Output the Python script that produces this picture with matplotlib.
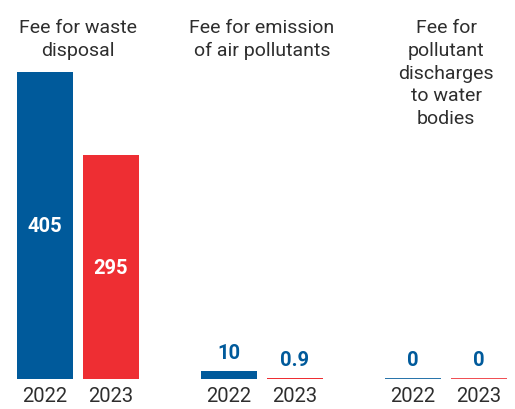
import matplotlib.pyplot as plt

titles = ["Fee for waste\ndisposal", "Fee for emission\nof air pollutants",
          "Fee for\npollutant\ndischarges\nto water\nbodies"]
years = ["2022", "2023"]
values_2022 = [405, 10, 0]
values_2023 = [295, 0.9, 0]
labels_2022 = ["405", "10", "0"]
labels_2023 = ["295", "0.9", "0"]

blue = "#005a9b"
red = "#ee2e33"
dark = "#2e2e2e"

plt.rcParams["font.family"] = ["Roboto", "DejaVu Sans"]

fig = plt.figure(figsize=(5.15, 4.10), dpi=100)
ax = fig.add_axes([0, 30 / 410, 1, 380 / 410])
ax.set_xlim(-78 / 184, 437 / 184)
ax.set_ylim(0, 405 * 380 / 307)
ax.axis("off")

off = 0.179
w = 0.304
trans = ax.get_xaxis_transform()
for i in range(len(titles)):
    for x, v, lab, c, yr in [(i - off, values_2022[i], labels_2022[i], blue, years[0]),
                             (i + off, values_2023[i], labels_2023[i], red, years[1])]:
        ax.bar(x, v, width=w, color=c, linewidth=0)
        ax.plot([x - w / 2, x + w / 2], [0, 0], color=c, lw=1.2, solid_capstyle="butt")
        if v > 100:
            ax.text(x, v / 2, lab, color="white", fontsize=14.5, fontweight="bold",
                    ha="center", va="center")
        else:
            ax.annotate(lab, (x, v), textcoords="offset points", xytext=(0, 7),
                        ha="center", va="bottom", color=blue, fontsize=14.5,
                        fontweight="bold")
        ax.text(x, -17 / 380, yr, transform=trans, ha="center", va="center",
                color=dark, fontsize=14.5)
    ax.text(i, 1 - 19 / 380, titles[i], transform=trans, ha="center", va="top",
            color=dark, fontsize=14, linespacing=1.34)

fig.savefig("out.png", dpi=100)
